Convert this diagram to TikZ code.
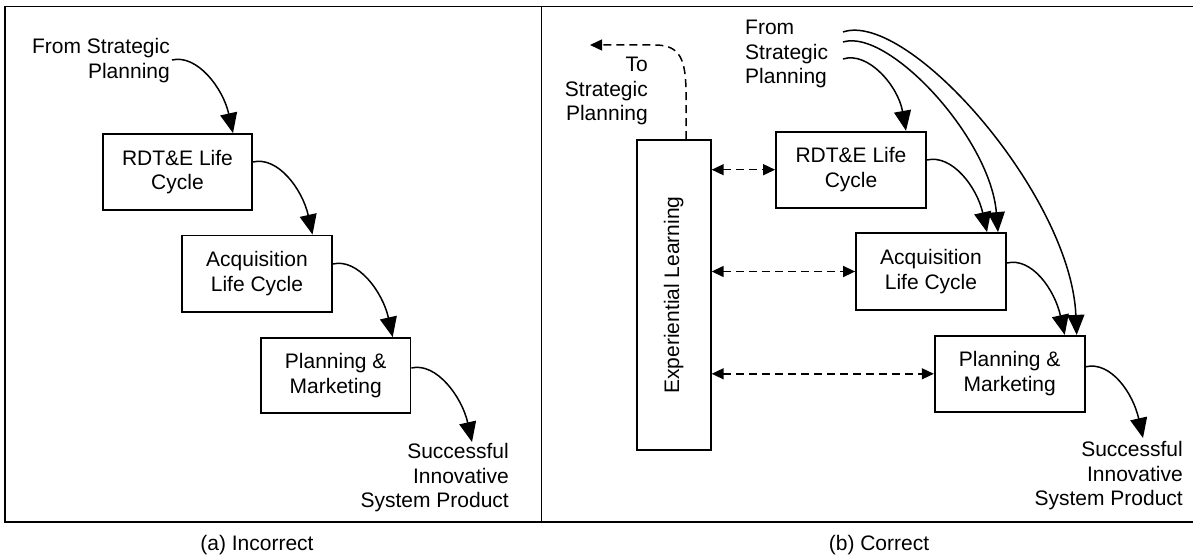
\documentclass[tikz,border=0pt]{standalone}
\usepackage{fontspec}
\setmainfont{Liberation Sans}
\usetikzlibrary{arrows.meta,calc}
\tikzset{
  txt/.style={font=\fontsize{21}{24.5}\selectfont, inner sep=0pt},
  box/.style={txt, draw, line width=1.8pt, align=center},
  frame/.style={line width=1.8pt},
  flow/.style={line width=1.5pt, -{Triangle[length=20pt,width=17pt]}},
  dflow/.style={line width=1.5pt, dash pattern=on 8pt off 5pt},
  dtip/.style={{Triangle[length=12pt,width=11pt]}-{Triangle[length=12pt,width=11pt]}},
  dtipend/.style={-{Triangle[length=12pt,width=11pt]}}
}
\begin{document}
\begin{tikzpicture}[x=1pt,y=-1pt]
\useasboundingbox (0,0) rectangle (1193,559);
% frames
\draw[frame] (5,6.5) rectangle (541.5,521.7);
\draw[frame] (541.5,6.5) -- (1193,6.5);
\draw[frame] (541.5,521.7) -- (1193,521.7);
\node[txt] (capA) at (257,545) {(a) Incorrect};
\node[txt] (capB) at (879,545) {(b) Correct};

% ---- left panel ----
\node[txt, align=right, anchor=east] (fromL) at (170,60.5) {From Strategic\\Planning};
\node[box, minimum width=149, minimum height=76] (rdtL) at (177.5,172) {RDT\&E Life\\Cycle};
\node[box, minimum width=150, minimum height=76.5] (acqL) at (257,273.7) {Acquisition\\Life Cycle};
\node[box, minimum width=149.5, minimum height=75] (planL) at (335.7,375.5) {Planning \&\\Marketing};
\node[txt, align=right, anchor=east] (succL) at (509,478) {Successful\\Innovative\\System Product};
\coordinate (sL) at (172,60);
\coordinate (endL) at (472,442);

\draw[flow] (sL) .. controls +(25,-6) and +(-10,-45) .. ([xshift=55.5]rdtL.north);
\draw[flow] ([yshift=10]rdtL.east) .. controls +(25,-6) and +(-10,-45) .. ([xshift=55.5]acqL.north);
\draw[flow] ([yshift=9.7]acqL.east) .. controls +(25,-6) and +(-10,-45) .. ([xshift=57]planL.north);
\draw[flow] ([yshift=7.5]planL.east) .. controls +(25,-6) and +(-10,-45) .. (endL);

% ---- right panel ----
\node[txt, align=right, anchor=east] (toR) at (648,91) {To\\Strategic\\Planning};
\node[txt, align=left, anchor=west] (fromR) at (745,54) {From\\Strategic\\Planning};
\node[box, minimum width=74, minimum height=310] (exp) at (673.8,295) {};
\node[txt, rotate=90] (expT) at (exp.center) {Experiential Learning};
\node[box, minimum width=150, minimum height=76] (rdtR) at (851,169.7) {RDT\&E Life\\Cycle};
\node[box, minimum width=150, minimum height=77] (acqR) at (931,271.5) {Acquisition\\Life Cycle};
\node[box, minimum width=150, minimum height=76] (planR) at (1009.7,373.8) {Planning \&\\Marketing};
\node[txt, align=right, anchor=east] (succR) at (1183,476) {Successful\\Innovative\\System Product};
\coordinate (s1) at (843,59);
\coordinate (s2) at (843,42);
\coordinate (s3) at (843,32);
\coordinate (endR) at (1143,438);
\coordinate (toEnd) at (590,45);

\draw[flow] (s1) .. controls +(25,-8) and +(-8,-45) .. ([xshift=55]rdtR.north);
\draw[flow] (s2) .. controls +(45,-14) and +(-8,-95) .. ([xshift=67]acqR.north);
\draw[flow] (s3) .. controls +(65,-22) and +(-6,-140) .. ([xshift=67]planR.north);
\draw[flow] ([yshift=9.7]rdtR.east) .. controls +(25,-6) and +(-10,-45) .. ([xshift=56]acqR.north);
\draw[flow] ([yshift=8.5]acqR.east) .. controls +(25,-6) and +(-10,-45) .. ([xshift=55]planR.north);
\draw[flow] ([yshift=7]planR.east) .. controls +(25,-6) and +(-10,-45) .. (endR);

\draw[dflow, dtipend] ([xshift=12.2]exp.north) -- ++(0,-45) .. controls +(0,-35) and +(25,0) .. (655,45) -- (toEnd);
\draw[dflow, dtip] (rdtR.west -| exp.east) -- (rdtR.west);
\draw[dflow, dtip] (acqR.west -| exp.east) -- (acqR.west);
\draw[dflow, dtip] (planR.west -| exp.east) -- (planR.west);
\end{tikzpicture}
\end{document}
